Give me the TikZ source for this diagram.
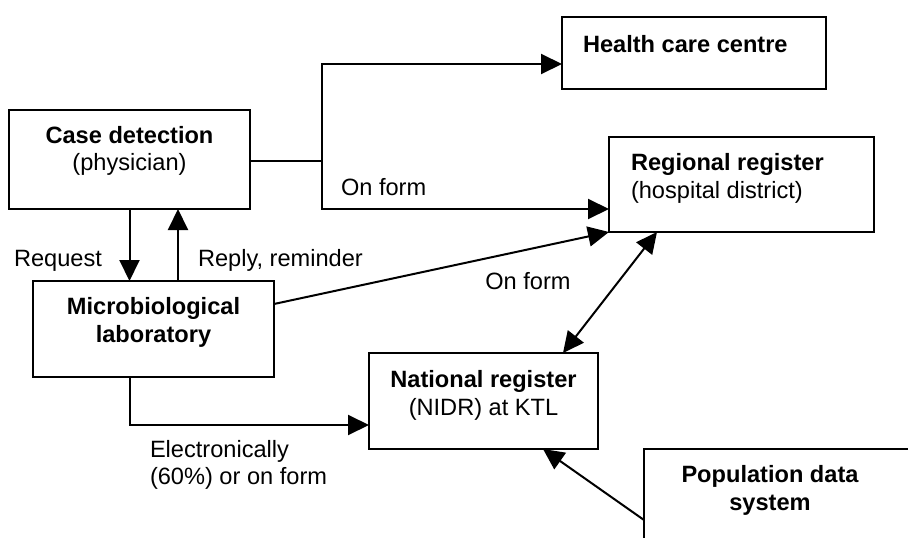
\documentclass[tikz,border=0pt]{standalone}
\usepackage{fontspec}
\setmainfont{Liberation Sans}
\usetikzlibrary{arrows.meta}
\begin{document}
\begin{tikzpicture}[x=1pt,y=-1pt,
  box/.style={draw,line width=2pt,rectangle,inner sep=0pt,outer sep=0pt},
  txt/.style={inner sep=0pt,outer sep=0pt,font=\fontsize{23.6}{28}\selectfont},
  ttl/.style={txt,font=\fontsize{23.6}{28}\selectfont\bfseries},
  link/.style={line width=2pt},
  tip/.style={Triangle[length=21pt,width=20pt]},
  arr/.style={link,-{Triangle[length=21pt,width=20pt]}},
  dbl/.style={link,{Triangle[length=21pt,width=20pt]}-{Triangle[length=21pt,width=20pt]}}]
\clip (0,0) rectangle (908,538);
\fill[white] (0,0) rectangle (908,538);

% boxes
\node[box,minimum width=241pt,minimum height=99pt] (cd) at (129.5,159.5) {};
\node[box,minimum width=264pt,minimum height=72pt] (hc) at (694,53) {};
\node[box,minimum width=265pt,minimum height=95pt] (rr) at (741.5,184.5) {};
\node[box,minimum width=241pt,minimum height=96pt] (ml) at (153.5,329) {};
\node[box,minimum width=229pt,minimum height=96pt] (nr) at (483.5,401) {};
\node[box,minimum width=280pt,minimum height=120pt] (pd) at (784,509) {};

% box texts
\node[ttl,anchor=base] (cdA) at (129.5,143) {Case detection};
\node[txt,anchor=base] (cdB) at (129.5,170.5) {(physician)};
\node[ttl,anchor=base west] (hcA) at (583,52) {Health care centre};
\node[ttl,anchor=base west] (rrA) at (631,170) {Regional register};
\node[txt,anchor=base west] (rrB) at (631,198) {(hospital district)};
\node[ttl,anchor=base] (mlA) at (153.5,314) {Microbiological};
\node[ttl,anchor=base] (mlB) at (153.5,342) {laboratory};
\node[ttl,anchor=base] (nrA) at (483.5,387) {National register};
\node[txt,anchor=base] (nrB) at (483.5,415) {(NIDR) at KTL};
\node[ttl,anchor=base] (pdA) at (770,482) {Population data};
\node[ttl,anchor=base] (pdB) at (770,510) {system};

% connector labels
\node[txt,anchor=base west] (lReq) at (14,266) {Request};
\node[txt,anchor=base west] (lRep) at (198,266) {Reply, reminder};
\node[txt,anchor=base west] (lF1) at (341,195.5) {On form};
\node[txt,anchor=base] (lF2) at (528,289.5) {On form};
\node[txt,anchor=base west] (lE1) at (150,457) {Electronically};
\node[txt,anchor=base west] (lE2) at (150,484.5) {(60\%) or on form};

% connectors
\coordinate (jn) at (322,161);
\draw[link] (cd.east |- jn) -- (jn);
\draw[arr] (jn) |- ([yshift=-11pt]hc.west);
\draw[arr] (jn) |- ([yshift=-24.5pt]rr.west);
\draw[arr] (cd.south) -- (cd.south |- ml.north);
\draw[arr] ([xshift=24.5pt]ml.north) -- ([xshift=48.5pt]cd.south);
\draw[arr] ([yshift=25pt]ml.east) -- (rr.south west);
\draw[dbl] ([xshift=48pt]rr.south west) -- ([xshift=79.5pt]nr.north);
\draw[arr] ([xshift=-23.5pt]ml.south) |- ([yshift=-24pt]nr.west);
\draw[arr] ([yshift=-71pt]pd.north west) -- ([xshift=59.5pt]nr.south);
\end{tikzpicture}
\end{document}
